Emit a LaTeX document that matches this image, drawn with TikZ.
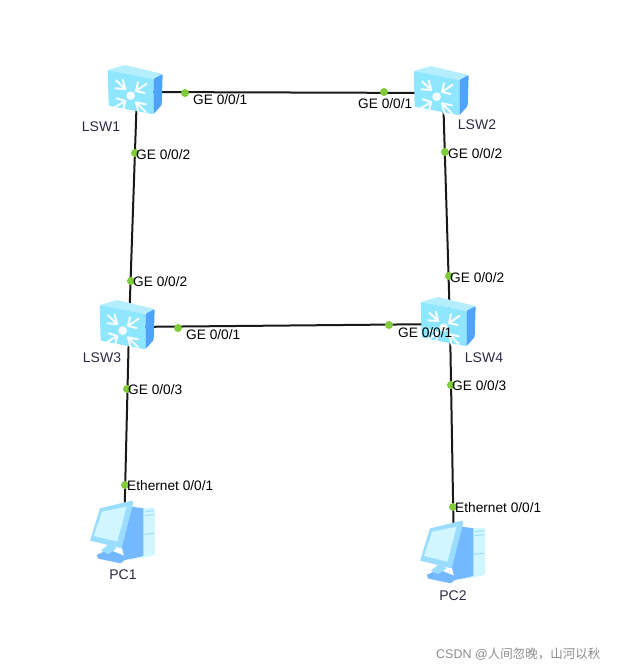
\documentclass[tikz,border=0pt]{standalone}
\usepackage{fontspec}
\setmainfont{Liberation Sans}
\newfontfamily\cjkwm{Noto Sans CJK SC}
\definecolor{swfront}{HTML}{8FE6FF}
\definecolor{swtop}{HTML}{B5EEFF}
\definecolor{swside}{HTML}{4FA3FB}
\definecolor{pcpale}{HTML}{D2F6FF}
\definecolor{pcmid}{HTML}{9BDDFF}
\definecolor{pcblue}{HTML}{74B8FF}
\definecolor{devtext}{HTML}{2A2A45}
\definecolor{dotgreen}{HTML}{7FCB3A}
\tikzset{
  link/.style={draw=black!90,line width=2pt},
  portdot/.style={circle,fill=dotgreen,inner sep=0pt,minimum size=8pt},
  port/.style={anchor=west,inner sep=0pt,font=\fontsize{13.7}{14}\selectfont,text=black},
  devname/.style={inner sep=0pt,font=\fontsize{14}{15}\selectfont,text=devtext},
  chev/.style={draw=white!92!swfront,line width=2pt,line cap=round,line join=round},
  switchicon/.pic={
    \begin{scope}[x=0.3333pt,y=-0.3333pt,shift={(-201,-111)}]
      \fill[swtop,rounded corners=1pt] (113,45) -- (165,30) -- (278,57) -- (250,72) -- cycle;
      \fill[swside,rounded corners=1pt] (250,72) -- (278,57) -- (275,150) -- (250,178) -- cycle;
      \fill[swfront,rounded corners=1pt] (113,45) -- (250,72) -- (250,178) -- (116,152) -- cycle;
      \fill[white!92!swfront] (182,122) circle (13);
      \draw[chev] (138,76) -- (166,102) (136,100) -- (166,102) -- (158,74);
      \draw[chev] (230,86) -- (198,108) (224,114) -- (198,108) -- (204,82);
      \draw[chev] (134,157) -- (166,138) (140,130) -- (166,138) -- (160,162);
      \draw[chev] (228,172) -- (198,142) (228,148) -- (198,142) -- (206,174);
    \end{scope}
  },
  pcicon/.pic={
    \begin{scope}[x=0.3333pt,y=-0.3333pt,shift={(-132,-165)}]
      \fill[pcpale] (155,82) -- (225,85) -- (225,225) -- (150,240) -- cycle;
      \fill[pcblue] (155,80) -- (190,85) -- (190,228) -- (135,240) -- (125,200) -- cycle;
      \draw[pcmid,line width=1pt] (195,95) -- (222,92) (195,107) -- (222,104) (192,163) -- (222,160);
      \fill[pcblue] (50,225) -- (85,208) -- (145,232) -- (122,250) -- (55,236) -- cycle;
      \fill[pcmid] (62,212) -- (90,190) -- (110,205) -- (85,222) -- cycle;
      \fill[pcmid] (60,85) -- (155,62) -- (160,68) -- (125,205) -- (30,182) -- cycle;
      \fill[pcpale] (66,95) -- (140,80) -- (112,185) -- (42,168) -- cycle;
    \end{scope}
  }
}
\begin{document}
\begin{tikzpicture}[x=1pt,y=-1pt]
\useasboundingbox (0,0) rectangle (616,671);
\node[coordinate] (LSW1) at (137,92) {};
\node[coordinate] (LSW2) at (443,93) {};
\node[coordinate] (LSW3) at (129,327) {};
\node[coordinate] (LSW4) at (450,324) {};
\node[coordinate] (PC1) at (124,535) {};
\node[coordinate] (PC2) at (454,555) {};
\draw[link] (LSW1) -- (LSW2);
\draw[link] (LSW1) -- (LSW3);
\draw[link] (LSW2) -- (LSW4);
\draw[link] (LSW3) -- (LSW4);
\draw[link] (LSW3) -- (PC1);
\draw[link] (LSW4) -- (PC2);
\pic at (LSW1) {switchicon};
\pic at (LSW2) {switchicon};
\pic at (LSW3) {switchicon};
\pic at (LSW4) {switchicon};
\pic at (PC1) {pcicon};
\pic at (PC2) {pcicon};
\node[portdot] (d1) at (185,93) {};
\node[portdot] (d2) at (384,92) {};
\node[portdot] (d3) at (135,153) {};
\node[portdot] (d4) at (445,152) {};
\node[portdot] (d5) at (131,281) {};
\node[portdot] (d6) at (449,276) {};
\node[portdot] (d7) at (178,328) {};
\node[portdot] (d8) at (389,325) {};
\node[portdot] (d9) at (127,389) {};
\node[portdot] (d10) at (451,385) {};
\node[portdot] (d11) at (125,485) {};
\node[portdot] (d12) at (453,507) {};
\node[port] (p1) at (193,100) {GE 0/0/1};
\node[port] (p2) at (358,104) {GE 0/0/1};
\node[port] (p3) at (136,155) {GE 0/0/2};
\node[port] (p4) at (448,154) {GE 0/0/2};
\node[port] (p5) at (133,282) {GE 0/0/2};
\node[port] (p6) at (450,278) {GE 0/0/2};
\node[port] (p7) at (186,335) {GE 0/0/1};
\node[port] (p8) at (398,333) {GE 0/0/1};
\node[port] (p9) at (128,390) {GE 0/0/3};
\node[port] (p10) at (452,386) {GE 0/0/3};
\node[port] (p11) at (127,486) {Ethernet 0/0/1};
\node[port] (p12) at (455,508) {Ethernet 0/0/1};
\node[devname] (n1) at (101,127) {LSW1};
\node[devname] (n2) at (477,125) {LSW2};
\node[devname] (n3) at (102,358) {LSW3};
\node[devname] (n4) at (484,358) {LSW4};
\node[devname] (n5) at (123,575) {PC1};
\node[devname] (n6) at (453,596) {PC2};
\node[anchor=west,inner sep=0pt,text=black!45,font=\fontsize{12.5}{14}\selectfont] (wm) at (436,654) {CSDN @{\cjkwm 人间忽晚，山河以秋}};
\end{tikzpicture}
\end{document}
